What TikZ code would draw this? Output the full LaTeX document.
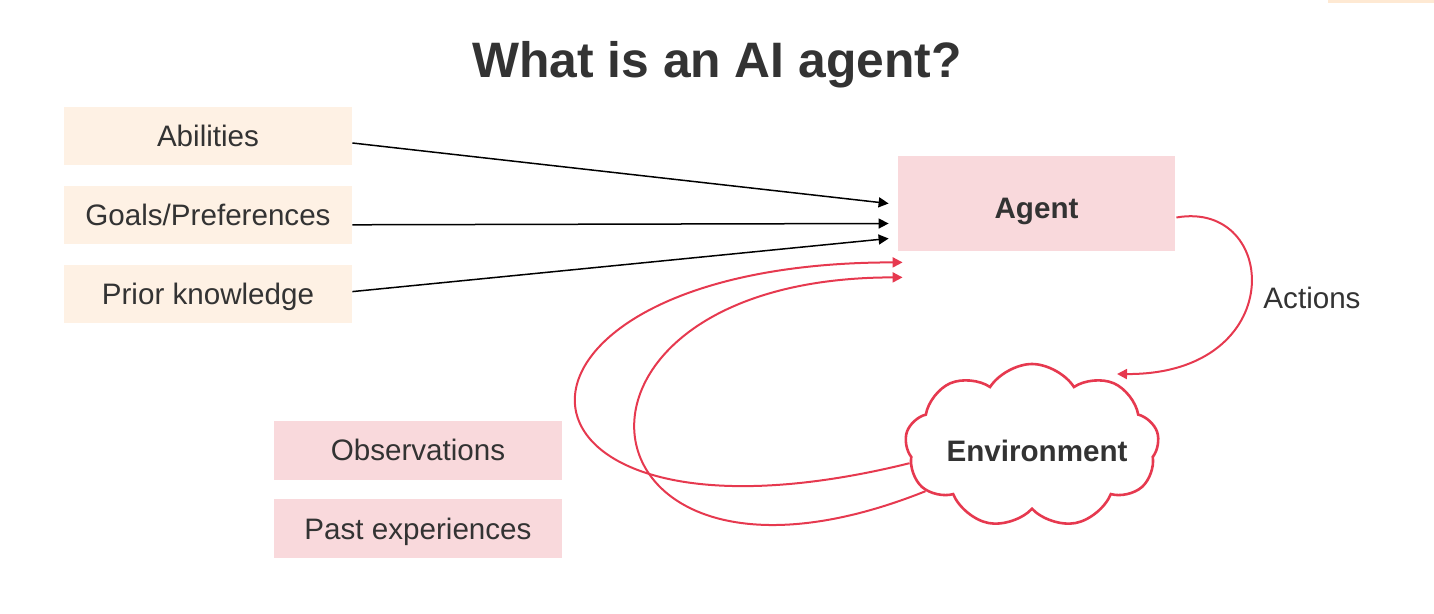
\documentclass[tikz,border=0pt]{standalone}
\usepackage{fontspec}
\setmainfont{Liberation Sans}
\usepackage{xcolor}
\usepackage{tikz}
\usetikzlibrary{arrows.meta,calc,positioning,shapes.symbols}

\definecolor{inkgray}{HTML}{333333}
\definecolor{boxorange}{HTML}{FEF1E4}
\definecolor{boxpink}{HTML}{F9D9DC}
\definecolor{loopred}{HTML}{E6394F}

\begin{document}
\begin{tikzpicture}[
    x=0.5pt,
    y=-0.5pt,
    font=\fontsize{14.8}{18}\selectfont,
    text=inkgray,
    capmid/.style={text height=10.6pt,text depth=0pt},
    inbox/.style={capmid,fill=boxorange,minimum width=144pt,minimum height=29pt,inner sep=0pt},
    pinkbox/.style={capmid,fill=boxpink,minimum width=144pt,minimum height=29.5pt,inner sep=0pt},
    feed/.style={-{Triangle[length=5pt,width=5pt]},draw=black,line width=0.75pt},
    loop/.style={-{Triangle[length=5pt,width=5pt]},draw=loopred,line width=1pt},
    envcloud/.style={cloud,cloud puffs=9,cloud puff arc=115,aspect=1.6,
                     draw=loopred,line width=1.3pt,fill=white,
                     minimum width=127pt,minimum height=82pt,inner sep=0pt}
]

\useasboundingbox (0,0) rectangle (1434,614);
\fill[boxorange!80!orange!60] (1328,0) rectangle (1434,3);

\node[font=\fontsize{24.9}{30}\selectfont\bfseries,text height=17.9pt,text depth=0pt]
    (title) at (717,60) {What is an AI agent?};

\node[inbox] (abil) at (208,136) {Abilities};
\node[inbox,below=10pt of abil] (goal) {Goals/Preferences};
\node[inbox,below=10pt of goal] (prior) {Prior knowledge};

\node[pinkbox,minimum width=138.5pt,minimum height=47.5pt,text height=14.6pt,
      font=\fontsize{14.8}{18}\selectfont\bfseries]
    (agent) at (1036.5,203.5) {Agent};

\node[pinkbox] (obs) at (418,450) {Observations};
\node[pinkbox,below=9.5pt of obs] (past) {Past experiences};

\node[envcloud] (env) at (1032,446) {};
\node[capmid,font=\fontsize{14.8}{18}\selectfont\bfseries] (envtext) at (1037,451) {Environment};

\node (act) at (1312,298) {Actions};

% inputs
\draw[feed] ($(abil.east)+(0,7)$) -- ($(agent.west)+(-9,0)$);
\draw[feed] ($(goal.east)+(0,10)$) -- ($(agent.west)+(-9,20)$);
\draw[feed] ($(prior.east)+(0,-2)$) -- ($(agent.west)+(-9,35)$);

% observation loops
\coordinate (obsin) at ($(agent.south west)+(5,11)$);
\coordinate (pastin) at ($(agent.south west)+(5,26)$);
\draw[loop] (env.188) .. controls +(-437,108) and +(-443,0) .. (obsin);
\draw[loop] (env.203) .. controls +(-358,143) and +(-383,0) .. (pastin);

% actions
\coordinate (actin) at ($(env.center)+(85,-72)$);
\draw[loop] ($(agent.east)+(1,14)$) .. controls +(103,-18) and +(173,1) .. (actin);

\end{tikzpicture}
\end{document}
